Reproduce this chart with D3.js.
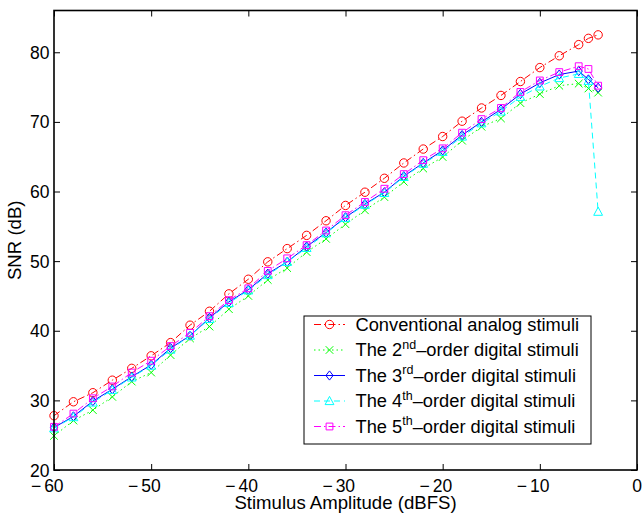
<!DOCTYPE html>
<html>
<head>
<meta charset="utf-8">
<script src="https://cdn.jsdelivr.net/npm/d3@7"></script>
<style>
  html, body { margin: 0; padding: 0; background: #fff; }
  svg { display: block; font-family: "Liberation Sans", Arial, Helvetica, sans-serif; }
</style>
</head>
<body>
<svg id="chart" width="644" height="514"></svg>
<script>
// ---- data ----
const xValues = [-60,-58,-56,-54,-52,-50,-48,-46,-44,-42,-40,-38,-36,-34,-32,-30,-28,-26,-24,-22,-20,-18,-16,-14,-12,-10,-8,-6,-5,-4];
const conventional = [27.8,29.8,31.1,32.9,34.6,36.4,38.3,40.8,42.8,45.3,47.4,49.9,51.8,53.7,55.8,58.0,59.9,61.9,64.1,66.1,67.9,70.1,72.0,73.8,75.8,77.8,79.5,81.1,82.0,82.5];
const order2 = [24.9,27.1,28.6,30.5,32.7,34.0,36.5,38.9,40.6,43.1,45.0,47.3,49.0,51.3,53.2,55.3,57.3,59.2,61.4,63.3,64.95,67.3,69.3,70.5,72.7,74.0,75.2,75.5,74.8,74.2];
const order3 = [26.1,27.7,29.9,31.6,33.4,35.1,37.5,39.3,41.85,44.15,45.9,48.2,49.9,52.1,54.1,56.3,58.2,59.9,62.2,64.1,65.9,68.1,70.0,71.8,74.0,75.6,76.8,77.3,76.1,74.9];
const order4 = [26.0,27.6,29.7,31.5,33.3,35.0,37.3,39.3,41.7,44.0,45.8,48.0,49.9,51.9,54.0,56.2,58.1,59.8,62.1,64.0,65.7,67.9,69.8,71.5,73.6,75.1,76.3,76.9,75.9,57.1];
const order5 = [26.2,28.1,30.3,32.0,34.0,35.7,37.8,39.7,42.1,44.4,46.1,48.6,50.4,52.3,54.4,56.6,58.5,60.4,62.5,64.5,66.2,68.45,70.4,72.0,74.3,75.95,77.15,78.0,77.6,75.2];
const xTicks = [-60,-50,-40,-30,-20,-10,0];
const yTicks = [20,30,40,50,60,70,80];
const xLabel = "Stimulus Amplitude (dBFS)";
const yLabel = "SNR (dB)";

const seriesDefs = [
  {values: conventional, color: "#ff0000", dash: "7,3,1.5,3", marker: "circle", label: ["Conventional analog stimuli"]},
  {values: order2, color: "#00ff00", dash: "1.5,3", marker: "x", label: ["The 2", "nd", "\u2013order digital stimuli"]},
  {values: order3, color: "#0000ff", dash: null, marker: "diamond", label: ["The 3", "rd", "\u2013order digital stimuli"]},
  {values: order4, color: "#00ffff", dash: "6,4", marker: "triangle", label: ["The 4", "th", "\u2013order digital stimuli"]},
  {values: order5, color: "#ff00ff", dash: "7,3,1.5,3", marker: "square", label: ["The 5", "th", "\u2013order digital stimuli"]}
];

// ---- layout ----
const pLeft = 54, pRight = 637, pTop = 10.5, pBottom = 470;
const x = d3.scaleLinear().domain([-60, 0]).range([pLeft, pRight]);
const y = d3.scaleLinear().domain([20, 86]).range([pBottom, pTop]);

const svg = d3.select("#chart");
const fsTick = 17.5, fsLabel = 18.6, fsLegend = 18.3;

const markerPaths = {
  circle: "M4.2,0A4.2,4.2,0,1,1,-4.2,0A4.2,4.2,0,1,1,4.2,0Z",
  x: "M-3.8,-3.8L3.8,3.8M-3.8,3.8L3.8,-3.8",
  diamond: "M0,-4.6L3.6,0L0,4.6L-3.6,0Z",
  triangle: "M0,-4.6L4.4,3.6L-4.4,3.6Z",
  square: "M-3.4,-3.4H3.4V3.4H-3.4Z"
};

// ---- series ----
const line = d3.line().x((d) => x(d[0])).y((d) => y(d[1]));
const plot = svg.append("g");
seriesDefs.forEach((s) => {
  const pts = xValues.map((xv, i) => [xv, s.values[i]]);
  plot.append("path")
    .attr("d", line(pts))
    .attr("fill", "none")
    .attr("stroke", s.color)
    .attr("stroke-width", 1)
    .attr("stroke-dasharray", s.dash);
  plot.selectAll(null).data(pts).enter().append("path")
    .attr("transform", (d) => `translate(${x(d[0])},${y(d[1])})`)
    .attr("d", markerPaths[s.marker])
    .attr("fill", "none")
    .attr("stroke", s.color)
    .attr("stroke-width", 1);
});

// ---- axes (MATLAB style box, inward ticks on all sides) ----
const axB = d3.axisBottom(x).tickValues(xTicks).tickSizeInner(-6).tickSizeOuter(0).tickFormat("");
const axT = d3.axisTop(x).tickValues(xTicks).tickSizeInner(-6).tickSizeOuter(0).tickFormat("");
const axL = d3.axisLeft(y).tickValues(yTicks).tickSizeInner(-6).tickSizeOuter(0).tickFormat("");
const axR = d3.axisRight(y).tickValues(yTicks).tickSizeInner(-6).tickSizeOuter(0).tickFormat("");
[[axB, `translate(0,${pBottom})`], [axT, `translate(0,${pTop})`], [axL, `translate(${pLeft},0)`], [axR, `translate(${pRight},0)`]].forEach(([ax, tr]) => {
  const g = svg.append("g").attr("transform", tr).call(ax);
  g.select(".domain").remove();
  g.selectAll(".tick line").attr("stroke", "#000").attr("stroke-width", 1);
});
svg.append("rect")
  .attr("x", pLeft).attr("y", pTop)
  .attr("width", pRight - pLeft).attr("height", pBottom - pTop)
  .attr("fill", "none").attr("stroke", "#000").attr("stroke-width", 1.6);

// x tick labels
xTicks.forEach((t) => {
  const txt = svg.append("text")
    .attr("y", pBottom + 21.5)
    .attr("font-size", fsTick)
    .attr("fill", "#000");
  if (t < 0) {
    txt.attr("x", x(t) + 9.6).attr("text-anchor", "end");
    txt.append("tspan").text("\u2212");
    txt.append("tspan").attr("dx", 3).text(String(Math.abs(t)));
  } else {
    txt.attr("x", x(t)).attr("text-anchor", "middle").text(String(t));
  }
});
// y tick labels
yTicks.forEach((t) => {
  svg.append("text")
    .attr("x", pLeft - 4.5)
    .attr("y", y(t) + 6.5)
    .attr("text-anchor", "end")
    .attr("font-size", fsTick)
    .attr("fill", "#000")
    .text(String(t));
});

// axis labels
svg.append("text")
  .attr("x", (pLeft + pRight) / 2)
  .attr("y", 508.5)
  .attr("text-anchor", "middle")
  .attr("font-size", fsLabel)
  .text(xLabel);
svg.append("text")
  .attr("transform", `translate(21,${(pTop + pBottom) / 2}) rotate(-90)`)
  .attr("text-anchor", "middle")
  .attr("font-size", fsLabel)
  .text(yLabel);

// ---- legend ----
const lg = svg.append("g");
lg.append("rect")
  .attr("x", 304).attr("y", 316)
  .attr("width", 287).attr("height", 128)
  .attr("fill", "#fff").attr("stroke", "#000").attr("stroke-width", 1);
seriesDefs.forEach((s, i) => {
  const cy = 324.5 + i * 25.5;
  lg.append("line")
    .attr("x1", 314).attr("x2", 345)
    .attr("y1", cy).attr("y2", cy)
    .attr("stroke", s.color).attr("stroke-width", 1)
    .attr("stroke-dasharray", s.dash);
  lg.append("path")
    .attr("transform", `translate(329.5,${cy})`)
    .attr("d", markerPaths[s.marker])
    .attr("fill", "none").attr("stroke", s.color).attr("stroke-width", 1);
  const t = lg.append("text")
    .attr("x", 355.5).attr("y", cy + 6.3)
    .attr("font-size", fsLegend).attr("fill", "#000");
  t.append("tspan").text(s.label[0]);
  if (s.label.length > 1) {
    t.append("tspan").attr("font-size", 12.5).attr("dy", -7.5).text(s.label[1]);
    t.append("tspan").attr("dy", 7.5).text(s.label[2]);
  }
});
</script>
</body>
</html>
